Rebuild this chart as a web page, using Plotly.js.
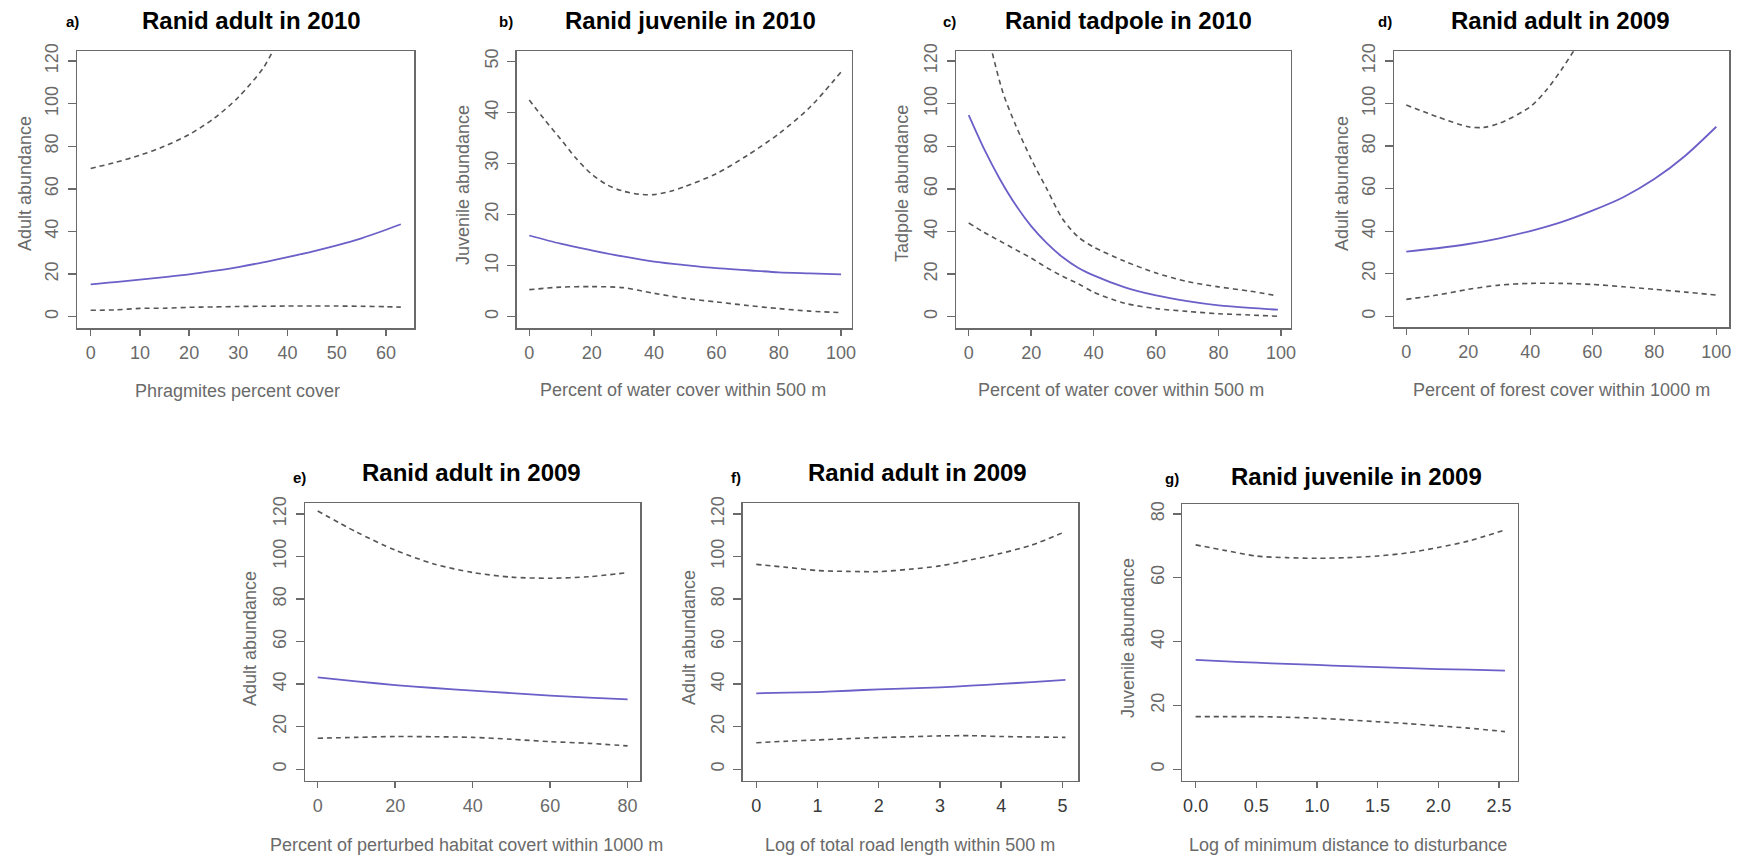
<!DOCTYPE html>
<html>
<head>
<meta charset="utf-8">
<script src="https://cdn.plot.ly/plotly-3.0.1.min.js"></script>
<style>html,body{margin:0;padding:0;background:#fff;}#chart{width:1746px;height:857px;}</style>
</head>
<body>
<div id="chart"></div>
<script>
// ---------- data ----------
// a) Ranid adult in 2010 vs Phragmites percent cover
const aX   = [0,5,10,15,20,25,30,35,40,45,50,55,60,63];
const aFit = [15.2,16.2,17.4,18.6,19.9,21.5,23.3,25.5,28,30.6,33.5,36.8,40.8,43.4];
const aLo  = [3,3.2,3.9,4,4.4,4.6,4.8,4.9,5,5,5,4.9,4.7,4.5];
const aUpX = [0,5,10,15,20,25,30,35,37,40];
const aUp  = [69.6,72.4,75.8,80,85.5,93,103,116.5,124.7,138];

// b) Ranid juvenile in 2010 vs percent water cover within 500 m
const bX   = [0,10,20,30,40,50,60,70,80,90,100];
const bFit = [15.9,14.3,13,11.8,10.8,10.1,9.5,9.1,8.7,8.5,8.3];
const bLo  = [5.3,5.8,5.9,5.7,4.6,3.6,2.9,2.2,1.6,1.1,0.8];
const bUpX = [0,5,10,15,20,25,30,35,40,45,50,60,70,80,90,100];
const bUp  = [42.4,38.5,34.8,31,27.9,25.8,24.6,24,23.9,24.5,25.5,28,31.6,35.8,41,47.9];

// c) Ranid tadpole in 2010 vs percent water cover within 500 m
const cX   = [0,5,10,15,20,25,30,35,40,50,60,70,80,90,99];
const cFit = [94.6,78.5,64.5,52.5,42.5,34.5,28,23,19.4,13.8,10,7.3,5.3,4.1,3.3];
const cLo  = [44,39.5,35.5,31.5,27.5,23,19,15.5,11.5,6.3,3.8,2.5,1.4,0.8,0.2];
const cUpX = [5,7.4,11,15,20,25,30,35,40,50,60,70,80,90,98];
const cUp  = [140,124.7,105,90,74,60,46,37.5,32.7,26,20.5,16.5,14,12,10];

// d) Ranid adult in 2009 vs percent forest cover within 1000 m
const dX   = [0,10,20,30,40,50,60,70,80,90,100];
const dFit = [30.4,32,34,36.7,40.1,44.3,49.7,56,64.5,75.5,89.1];
const dLo  = [8,10,12.7,14.7,15.5,15.5,15,13.9,12.7,11.4,10];
const dUpX = [0,10,20,25,30,40,45,50,54,57];
const dUp  = [99.3,93.8,89.1,88.8,90.7,98.5,106,115.8,124.7,131];

// e) Ranid adult in 2009 vs percent perturbed habitat within 1000 m
const eX   = [0,10,20,30,40,50,60,70,80];
const eFit = [43.2,41.3,39.6,38.2,37,35.8,34.6,33.7,32.9];
const eUp  = [121.4,111.5,103,96.5,92.5,90.3,89.8,90.5,92.4];
const eLo  = [14.6,15,15.4,15.3,15,14.1,13,12.2,11];

// f) Ranid adult in 2009 vs log total road length within 500 m
const fX   = [0,0.5,1,1.5,2,2.5,3,3.5,4,4.5,5.05];
const fFit = [35.7,36,36.3,36.9,37.6,38,38.5,39.3,40.1,41,42];
const fUp  = [96.3,94.9,93.4,93,92.9,94,95.6,98.4,101.5,105.4,111.7];
const fLo  = [12.5,13.2,13.8,14.4,14.9,15.3,15.7,15.8,15.4,15.2,15];

// g) Ranid juvenile in 2009 vs log minimum distance to disturbance
const gX   = [0,0.25,0.5,0.75,1,1.25,1.5,1.75,2,2.25,2.55];
const gFit = [34.3,33.8,33.4,33,32.7,32.3,32,31.7,31.4,31.2,30.9];
const gUp  = [70.3,68.5,66.8,66.3,66.1,66.3,66.8,67.8,69.5,71.5,75];
const gLo  = [16.5,16.5,16.5,16.3,16,15.5,14.9,14.3,13.6,12.9,11.8];

const panelLetters = ['a)','b)','c)','d)','e)','f)','g)'];
const panelTitles = ['Ranid adult in 2010','Ranid juvenile in 2010','Ranid tadpole in 2010','Ranid adult in 2009',
                     'Ranid adult in 2009','Ranid adult in 2009','Ranid juvenile in 2009'];
const xTitles = ['Phragmites percent cover','Percent of water cover within 500 m','Percent of water cover within 500 m',
                 'Percent of forest cover within 1000 m','Percent of perturbed habitat covert within 1000 m',
                 'Log of total road length within 500 m','Log of minimum distance to disturbance'];
const yTitles = ['Adult abundance','Juvenile abundance','Tadpole abundance','Adult abundance',
                 'Adult abundance','Adult abundance','Juvenile abundance'];
const xTickVals = [[0,10,20,30,40,50,60],[0,20,40,60,80,100],[0,20,40,60,80,100],[0,20,40,60,80,100],
                   [0,20,40,60,80],[0,1,2,3,4,5],[0,0.5,1,1.5,2,2.5]];
const yTickVals = [[0,20,40,60,80,100,120],[0,10,20,30,40,50],[0,20,40,60,80,100,120],[0,20,40,60,80,100,120],
                   [0,20,40,60,80,100,120],[0,20,40,60,80,100,120],[0,20,40,60,80]];

const series = [
  {fx:aX, fit:aFit, ux:aUpX, up:aUp, lx:aX, lo:aLo},
  {fx:bX, fit:bFit, ux:bUpX, up:bUp, lx:bX, lo:bLo},
  {fx:cX, fit:cFit, ux:cUpX, up:cUp, lx:cX, lo:cLo},
  {fx:dX, fit:dFit, ux:dUpX, up:dUp, lx:dX, lo:dLo},
  {fx:eX, fit:eFit, ux:eX, up:eUp, lx:eX, lo:eLo},
  {fx:fX, fit:fFit, ux:fX, up:fUp, lx:fX, lo:fLo},
  {fx:gX, fit:gFit, ux:gX, up:gUp, lx:gX, lo:gLo}
];

// ---------- layout geometry (pixels) ----------
const W = 1746, H = 857;
const boxes = [ // [left, right, top, bottom]
  [77,414,51,328],[516.7,851.7,51,328],[956,1290.7,51,328],[1394,1729,51,327],
  [305,640,503.3,780.7],[742.7,1078.3,503.3,780.7],[1182.3,1517.7,504,780.7]
];
const xRanges = [[-2.78,65.68],[-4.04,103.4],[-4.07,103.1],[-3.97,104.1],[-3.28,83.2],[-0.222,5.26],[-0.11,2.655]];
const yRanges = [[-5.3,124.7],[-2.2,52],[-5.3,124.7],[-5.0,124.7],[-5.36,125],[-5.36,125],[-3.57,83.1]];
const titlePos  = [[251.7,21],[690,21],[1128.5,21],[1560,21],[471,472],[917,472],[1356,476]];
const letterPos = [[72,22],[506,22],[950,22],[1385,22],[299,477],[736,477],[1172,478]];
const yTitlePos = [[25,184],[463,185],[902,184],[1342,184],[250,638],[689,638],[1128,638]];
const xTitlePos = [[237.5,391],[683,390],[1121,390],[1561,390],[466,845],[910,845],[1348,845]];

const FONT = 'Liberation Sans, Arial, Helvetica, sans-serif';
const BLUE = '#6b5fc8', DASH = '#555555', AX = '#6a6a6a', TXT = '#6a6a6a';

const traces = [];
const layout = {
  width: W, height: H, margin:{l:0,r:0,t:0,b:0},
  paper_bgcolor:'#fff', plot_bgcolor:'#fff', showlegend:false,
  font:{family:FONT}, annotations:[]
};
const px = x => x / W, py = y => 1 - y / H;

for (let i = 0; i < 7; i++) {
  const n = i === 0 ? '' : String(i + 1);
  const xa = 'x' + n, ya = 'y' + n;
  const s = series[i];
  const dashLine = {color:DASH, width:1.6, dash:'5px,4px', shape:'spline', smoothing:0.8};
  traces.push({x:s.ux, y:s.up, xaxis:xa, yaxis:ya, mode:'lines', line:dashLine, hoverinfo:'skip'});
  traces.push({x:s.lx, y:s.lo, xaxis:xa, yaxis:ya, mode:'lines', line:dashLine, hoverinfo:'skip'});
  traces.push({x:s.fx, y:s.fit, xaxis:xa, yaxis:ya, mode:'lines', line:{color:BLUE, width:1.8, shape:'spline', smoothing:0.8}, hoverinfo:'skip'});

  const b = boxes[i];
  const darkX = (i === 5 || i === 6);
  layout['xaxis' + n] = {
    domain:[px(b[0]), px(b[1])], anchor:ya, range:xRanges[i],
    tickmode:'array', tickvals:xTickVals[i], tickformat: i === 6 ? '.1f' : '',
    showline:true, mirror:true, linecolor:AX, linewidth:1.5,
    ticks:'outside', ticklen:6, tickwidth:1.4, tickcolor:AX, ticklabelstandoff:2,
    showgrid:false, zeroline:false,
    tickfont:{family:FONT, size:18, color: darkX ? '#3a3a3a' : TXT}
  };
  layout['yaxis' + n] = {
    domain:[py(b[3]), py(b[2])], anchor:xa, range:yRanges[i],
    tickmode:'array', tickvals:yTickVals[i], tickangle:-90,
    showline:true, mirror:true, linecolor:AX, linewidth:1.5,
    ticks:'outside', ticklen:8, tickwidth:1.4, tickcolor:AX, ticklabelstandoff:2,
    showgrid:false, zeroline:false,
    tickfont:{family:FONT, size:18, color:TXT}
  };

  layout.annotations.push({text:'<b>' + panelTitles[i] + '</b>', xref:'paper', yref:'paper',
    x:px(titlePos[i][0]), y:py(titlePos[i][1]), xanchor:'center', yanchor:'middle', showarrow:false,
    font:{family:FONT, size:24, color:'#000'}});
  layout.annotations.push({text:'<b>' + panelLetters[i] + '</b>', xref:'paper', yref:'paper',
    x:px(letterPos[i][0]), y:py(letterPos[i][1]), xanchor:'center', yanchor:'middle', showarrow:false,
    font:{family:FONT, size:15, color:'#000'}});
  layout.annotations.push({text:yTitles[i], xref:'paper', yref:'paper', textangle:-90,
    x:px(yTitlePos[i][0]), y:py(yTitlePos[i][1]), xanchor:'center', yanchor:'middle', showarrow:false,
    font:{family:FONT, size:18, color:TXT}});
  layout.annotations.push({text:xTitles[i], xref:'paper', yref:'paper',
    x:px(xTitlePos[i][0]), y:py(xTitlePos[i][1]), xanchor:'center', yanchor:'middle', showarrow:false,
    font:{family:FONT, size:18, color:TXT}});
}

Plotly.newPlot('chart', traces, layout, {staticPlot:true, displayModeBar:false});
</script>
</body>
</html>
